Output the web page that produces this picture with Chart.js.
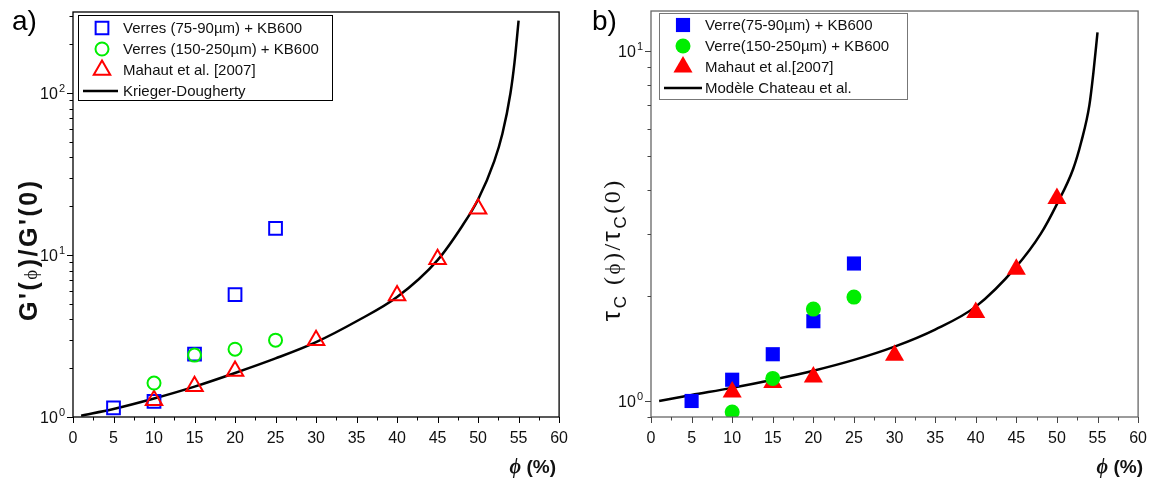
<!DOCTYPE html>
<html>
<head>
<meta charset="utf-8">
<script src="https://cdn.jsdelivr.net/npm/chart.js@4.4.1/dist/chart.umd.min.js"></script>
<style>
  html, body { margin: 0; padding: 0; background: #fff; }
  #wrap { position: relative; width: 1159px; height: 479px; }
  #wrap canvas { position: absolute; top: 0; }
</style>
</head>
<body>
<div id="wrap">
  <canvas id="chartA" width="580" height="479" style="left:0"></canvas>
  <canvas id="chartB" width="579" height="479" style="left:580px"></canvas>
</div>
<script>
// volume fraction phi (%) for each series
const phiBlue = [5, 10, 15, 20, 25];
const phiGreen = [10, 15, 20, 25];
const phiRed = [10, 15, 20, 30, 40, 45, 50];
const phiCurve = [1, 5, 10, 15, 20, 25, 30, 35, 40, 45, 48, 50, 52, 53, 54, 54.5, 55];

// a) G'(phi)/G'(0)
const gBlue = [1.14, 1.25, 2.44, 5.7, 14.6];
const gGreen = [1.62, 2.41, 2.62, 2.98];
const gRed = [1.27, 1.55, 1.92, 2.98, 5.63, 9.4, 19.3];
const gKrieger = [1.02, 1.12, 1.3, 1.54, 1.87, 2.3, 2.9, 3.9, 5.5, 9.3, 15, 22, 38, 56, 100, 155, 280];

// b) tau_c(phi)/tau_c(0)
const tauBlue = [1.0, 1.15, 1.36, 1.69, 2.47];
const tauGreen = [0.93, 1.16, 1.83, 1.98];
const tauRed = [1.06, 1.13, 1.17, 1.35, 1.79, 2.38, 3.79];
const tauChateau = [1.0, 1.04, 1.09, 1.15, 1.22, 1.31, 1.43, 1.6, 1.86, 2.42, 3.0, 3.65, 4.6, 5.5, 7.0, 8.7, 11.3];

// ticks
const xTicks = [0, 5, 10, 15, 20, 25, 30, 35, 40, 45, 50, 55, 60];
const gYTicks = [1, 10, 100];
const gYExp = ['0', '1', '2'];
const tauYTicks = [1, 10];
const tauYExp = ['0', '1'];

const legendA = ['Verres (75-90\u00b5m) + KB600', 'Verres (150-250\u00b5m) + KB600', 'Mahaut et al. [2007]', 'Krieger-Dougherty'];
const legendB = ['Verre(75-90\u00b5m) + KB600', 'Verre(150-250\u00b5m) + KB600', 'Mahaut et al.[2007]', 'Mod\u00e8le Chateau et al.'];

const fam = '"Liberation Sans", Arial, sans-serif';
const serif = '"Liberation Serif", "DejaVu Serif", serif';

function pts(xs, ys) {
  return xs.map((x, i) => ({ x: x, y: ys[i] }));
}

// text runs with optional letter spacing (sp), drawn char by char
function measureRuns(ctx, runs, sp) {
  let w = 0;
  runs.forEach(r => {
    ctx.font = r.f;
    r.w = 0;
    for (const ch of r.t) r.w += ctx.measureText(ch).width + sp;
    w += r.w;
  });
  return w - sp;
}

function drawRuns(ctx, runs, x, y, sp) {
  ctx.textAlign = 'left';
  ctx.textBaseline = 'alphabetic';
  runs.forEach(r => {
    ctx.font = r.f;
    for (const ch of r.t) {
      ctx.fillText(ch, x, y + (r.dy || 0));
      x += ctx.measureText(ch).width + sp;
    }
  });
}

const decor = {
  id: 'decor',
  afterDraw(chart, args, o) {
    const ctx = chart.ctx, a = chart.chartArea;
    const xs = chart.scales.x, ys = chart.scales.y;
    ctx.save();

    // frame
    ctx.strokeStyle = o.frame;
    ctx.lineWidth = 1.3;
    ctx.strokeRect(a.left, a.top, a.right - a.left, a.bottom - a.top);

    // tick marks, outward
    ctx.strokeStyle = o.tickColor;
    ctx.lineWidth = 1;
    ctx.beginPath();
    for (let v = xs.min; v <= xs.max + 1e-6; v += 2.5) {
      const px = Math.round(xs.getPixelForValue(v)) + 0.5;
      const len = Math.abs(v % 5) < 1e-6 ? 6 : 3.5;
      ctx.moveTo(px, a.bottom);
      ctx.lineTo(px, a.bottom + len);
    }
    for (let d = 0.1; d <= ys.max; d *= 10) {
      for (let k = 1; k <= 9; k++) {
        const v = k * d;
        if (v < ys.min * 0.999 || v > ys.max) continue;
        const py = Math.round(ys.getPixelForValue(v)) + 0.5;
        const len = k === 1 ? 6 : 3.5;
        ctx.moveTo(a.left - len, py);
        ctx.lineTo(a.left, py);
      }
    }
    ctx.stroke();

    // y tick labels 10^n
    ctx.fillStyle = '#111';
    o.yTicks.forEach((v, i) => {
      const py = ys.getPixelForValue(v);
      ctx.textAlign = 'right';
      ctx.textBaseline = 'alphabetic';
      ctx.font = '11px ' + fam;
      const ew = ctx.measureText(o.yExp[i]).width;
      ctx.fillText(o.yExp[i], a.left - 8, py - 1);
      ctx.font = '16px ' + fam;
      ctx.fillText('10', a.left - 9 - ew, py + 6);
    });

    // y title, rotated
    const yt = o.yTitle;
    const w = measureRuns(ctx, yt.runs, yt.sp);
    ctx.save();
    ctx.translate(yt.x, yt.y);
    ctx.rotate(-Math.PI / 2);
    drawRuns(ctx, yt.runs, -w / 2, 9, yt.sp);
    ctx.restore();

    // x title
    const xr = o.xTitle.runs;
    const xw = measureRuns(ctx, xr, 0);
    drawRuns(ctx, xr, o.xTitle.right - xw, o.xTitle.y + 7, 0);

    // panel label
    ctx.font = '28px ' + fam;
    ctx.textAlign = 'left';
    ctx.textBaseline = 'middle';
    ctx.fillStyle = '#000';
    ctx.fillText(o.panel.t, o.panel.x, o.panel.y);

    // legend
    const lg = o.legend;
    ctx.fillStyle = '#fff';
    ctx.fillRect(lg.box[0], lg.box[1], lg.box[2], lg.box[3]);
    ctx.strokeStyle = lg.border;
    ctx.lineWidth = 1;
    ctx.strokeRect(lg.box[0] + 0.5, lg.box[1] + 0.5, lg.box[2], lg.box[3]);
    chart.data.datasets.forEach((ds, i) => {
      const ry = lg.rows[i];
      if (ds.showLine) {
        ctx.strokeStyle = ds.borderColor;
        ctx.lineWidth = ds.borderWidth;
        ctx.beginPath();
        ctx.moveTo(lg.lx[0], ry);
        ctx.lineTo(lg.lx[1], ry);
        ctx.stroke();
      } else {
        ctx.fillStyle = ds.backgroundColor;
        ctx.strokeStyle = ds.borderColor;
        ctx.lineWidth = ds.pointBorderWidth;
        Chart.helpers.drawPoint(ctx, {
          pointStyle: ds.pointStyle, radius: ds.pointRadius,
          borderWidth: ds.pointBorderWidth, rotation: 0
        }, lg.mx, ry);
      }
      ctx.fillStyle = '#111';
      ctx.font = '15px ' + fam;
      ctx.textAlign = 'left';
      ctx.textBaseline = 'middle';
      ctx.fillText(lg.labels[i], lg.tx, ry + 1);
    });

    ctx.restore();
  }
};

function buildChart(id, cfg) {
  return new Chart(document.getElementById(id), {
    type: 'scatter',
    data: { datasets: cfg.datasets },
    options: {
      responsive: false,
      animation: false,
      devicePixelRatio: 1,
      events: [],
      layout: { padding: { top: cfg.top, right: cfg.right, left: 0, bottom: 0 } },
      plugins: { legend: { display: false }, tooltip: { enabled: false }, decor: cfg.decor },
      scales: {
        x: {
          type: 'linear', min: 0, max: 60,
          grid: { display: false, drawTicks: false },
          border: { display: false },
          afterBuildTicks: s => { s.ticks = xTicks.map(v => ({ value: v })); },
          ticks: { padding: 12, color: '#111', autoSkip: false, maxRotation: 0, font: { family: fam, size: 16 } },
          afterFit: s => { s.height = 479 - cfg.bottom; }
        },
        y: {
          type: 'logarithmic', min: cfg.ymin, max: cfg.ymax,
          grid: { display: false, drawTicks: false },
          border: { display: false },
          ticks: { display: false },
          afterFit: s => { s.width = cfg.left; }
        }
      }
    },
    plugins: [decor]
  });
}

function markerSet(xs, ys, style, color, filled, r, order) {
  return {
    data: pts(xs, ys), pointStyle: style, pointRadius: r,
    borderColor: color, backgroundColor: filled ? color : 'rgba(0,0,0,0)',
    pointBorderWidth: filled ? 0.01 : 2, showLine: false, order: order
  };
}

function curveSet(xs, ys) {
  return {
    type: 'line', data: pts(xs, ys), showLine: true, borderColor: '#000',
    borderWidth: 2.5, pointRadius: 0, cubicInterpolationMode: 'monotone', order: 3
  };
}

buildChart('chartA', {
  left: 73, right: 15, top: 12, bottom: 417, ymin: 1, ymax: 316,
  datasets: [
    markerSet(phiBlue, gBlue, 'rect', '#0000ff', false, 9, 2),
    markerSet(phiGreen, gGreen, 'circle', '#00ee00', false, 6.5, 0),
    markerSet(phiRed, gRed, 'triangle', '#ff0000', false, 9.5, 1),
    curveSet(phiCurve, gKrieger)
  ],
  decor: {
    frame: '#000', tickColor: '#000',
    yTicks: gYTicks, yExp: gYExp,
    yTitle: { x: 28, y: 251, sp: 2.5, runs: [
      { t: "G'(", f: 'bold 25px ' + fam },
      { t: '\u03d5', f: '19px ' + serif },
      { t: ")/G'(0)", f: 'bold 25px ' + fam }
    ] },
    xTitle: { right: 556, y: 466, runs: [
      { t: '\u03d5', f: 'italic bold 20px ' + serif },
      { t: ' (%)', f: 'bold 19px ' + fam }
    ] },
    panel: { t: 'a)', x: 12, y: 22 },
    legend: { box: [78, 15, 254, 85], border: '#000', rows: [28, 49, 70, 91], mx: 102, tx: 123, lx: [83, 118], labels: legendA }
  }
});

buildChart('chartB', {
  left: 71, right: 19, top: 7, bottom: 417, ymin: 0.9, ymax: 13,
  datasets: [
    markerSet(phiBlue, tauBlue, 'rect', '#0000ff', true, 10, 2),
    markerSet(phiGreen, tauGreen, 'circle', '#00ee00', true, 7.5, 0),
    markerSet(phiRed, tauRed, 'triangle', '#ff0000', true, 11, 1),
    curveSet(phiCurve, tauChateau)
  ],
  decor: {
    frame: '#666', tickColor: '#444',
    yTicks: tauYTicks, yExp: tauYExp,
    yTitle: { x: 31, y: 251, sp: 2.5, runs: [
      { t: '\u03c4', f: '26px ' + fam },
      { t: 'C', f: '17px ' + fam, dy: 6 },
      { t: ' (', f: '24px ' + serif },
      { t: '\u03d5', f: '21px ' + serif },
      { t: ')/', f: '24px ' + serif },
      { t: '\u03c4', f: '26px ' + fam },
      { t: 'C', f: '17px ' + fam, dy: 6 },
      { t: '(0)', f: '24px ' + serif }
    ] },
    xTitle: { right: 563, y: 466, runs: [
      { t: '\u03d5', f: 'italic bold 20px ' + serif },
      { t: ' (%)', f: 'bold 19px ' + fam }
    ] },
    panel: { t: 'b)', x: 12, y: 22 },
    legend: { box: [79, 13, 248, 86], border: '#777', rows: [25, 46, 67, 88], mx: 103, tx: 125, lx: [84, 122], labels: legendB }
  }
});
</script>
</body>
</html>
